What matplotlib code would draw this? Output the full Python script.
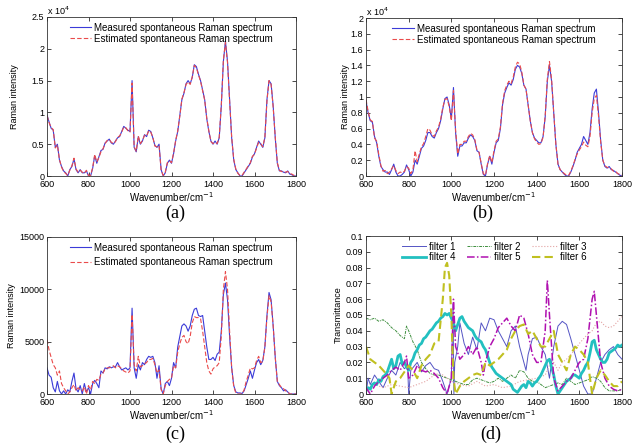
import numpy as np
import matplotlib
matplotlib.use("Agg")
import matplotlib.pyplot as plt

# ---------------- data ----------------
wn = list(range(600, 1801, 10))

# panel (a), intensity in units of 1e4
a_meas = [0.96, 0.85, 0.75, 0.72, 0.45, 0.50, 0.25, 0.15, 0.08, 0.05,
          0.00, 0.10, 0.15, 0.27, 0.10, 0.05, 0.10, 0.05, 0.05, 0.08,
          0.00, 0.00, 0.12, 0.32, 0.20, 0.30, 0.40, 0.42, 0.52, 0.55,
          0.58, 0.52, 0.50, 0.55, 0.60, 0.62, 0.70, 0.78, 0.75, 0.72,
          0.70, 1.50, 0.45, 0.38, 0.62, 0.50, 0.55, 0.65, 0.62, 0.72,
          0.70, 0.60, 0.48, 0.45, 0.50, 0.10, 0.00, 0.05, 0.20, 0.25,
          0.20, 0.35, 0.55, 0.70, 0.95, 1.20, 1.30, 1.45, 1.50, 1.45,
          1.55, 1.75, 1.72, 1.60, 1.50, 1.35, 1.20, 0.90, 0.70, 0.55,
          0.50, 0.55, 0.50, 0.60, 1.10, 1.80, 2.12, 1.80, 1.20, 0.60,
          0.25, 0.10, 0.05, 0.00, 0.00, 0.05, 0.10, 0.15, 0.20, 0.30,
          0.35, 0.45, 0.55, 0.50, 0.45, 0.60, 1.20, 1.50, 1.45, 1.10,
          0.60, 0.20, 0.08, 0.08, 0.06, 0.05, 0.08, 0.03, 0.02, 0.00,
          0.00]
a_est = [0.95, 0.84, 0.76, 0.73, 0.44, 0.49, 0.26, 0.14, 0.07, 0.04,
         0.01, 0.09, 0.16, 0.28, 0.11, 0.06, 0.09, 0.06, 0.04, 0.09,
         0.01, 0.01, 0.13, 0.34, 0.22, 0.29, 0.38, 0.43, 0.51, 0.56,
         0.57, 0.53, 0.51, 0.54, 0.61, 0.63, 0.69, 0.77, 0.76, 0.71,
         0.69, 1.46, 0.46, 0.39, 0.63, 0.51, 0.56, 0.64, 0.63, 0.71,
         0.69, 0.61, 0.47, 0.46, 0.48, 0.09, 0.01, 0.06, 0.21, 0.24,
         0.21, 0.36, 0.56, 0.71, 0.94, 1.21, 1.31, 1.44, 1.48, 1.44,
         1.56, 1.74, 1.70, 1.59, 1.49, 1.34, 1.19, 0.91, 0.71, 0.54,
         0.51, 0.53, 0.51, 0.61, 1.12, 1.82, 2.10, 1.78, 1.18, 0.61,
         0.26, 0.11, 0.04, 0.01, 0.01, 0.06, 0.11, 0.16, 0.21, 0.31,
         0.34, 0.44, 0.53, 0.51, 0.46, 0.61, 1.18, 1.50, 1.44, 1.08,
         0.61, 0.21, 0.09, 0.07, 0.07, 0.06, 0.07, 0.04, 0.03, 0.01,
         0.01]

# panel (b), units of 1e4
b_meas = [0.95, 0.80, 0.70, 0.68, 0.50, 0.42, 0.25, 0.12, 0.08, 0.05,
          0.05, 0.02, 0.08, 0.15, 0.05, 0.00, 0.00, 0.02, 0.05, 0.14,
          0.08, 0.00, 0.05, 0.20, 0.15, 0.25, 0.35, 0.38, 0.45, 0.55,
          0.55, 0.50, 0.48, 0.55, 0.60, 0.70, 0.85, 0.98, 1.00, 0.90,
          0.72, 1.12, 0.55, 0.25, 0.38, 0.38, 0.42, 0.42, 0.48, 0.52,
          0.50, 0.45, 0.32, 0.30, 0.15, 0.02, 0.00, 0.15, 0.25, 0.15,
          0.30, 0.42, 0.45, 0.60, 0.90, 1.05, 1.12, 1.18, 1.15, 1.22,
          1.35, 1.40, 1.38, 1.30, 1.15, 1.10, 0.90, 0.70, 0.55, 0.48,
          0.45, 0.42, 0.42, 0.50, 0.75, 1.20, 1.40, 1.20, 0.80, 0.40,
          0.15, 0.08, 0.05, 0.02, 0.00, 0.00, 0.05, 0.12, 0.20, 0.30,
          0.35, 0.40, 0.50, 0.45, 0.40, 0.55, 0.85, 1.05, 1.10, 0.80,
          0.45, 0.20, 0.12, 0.10, 0.12, 0.08, 0.07, 0.05, 0.03, 0.01,
          0.00]
b_est = [0.97, 0.82, 0.71, 0.69, 0.48, 0.44, 0.27, 0.13, 0.06, 0.07,
         0.03, 0.05, 0.09, 0.13, 0.07, 0.03, 0.05, 0.04, 0.06, 0.12,
         0.10, 0.03, 0.08, 0.32, 0.18, 0.28, 0.37, 0.41, 0.50, 0.60,
         0.58, 0.52, 0.50, 0.57, 0.62, 0.72, 0.87, 0.97, 0.98, 0.88,
         0.70, 1.08, 0.58, 0.28, 0.40, 0.40, 0.44, 0.44, 0.50, 0.54,
         0.52, 0.46, 0.33, 0.30, 0.16, 0.03, 0.01, 0.16, 0.26, 0.17,
         0.32, 0.44, 0.47, 0.62, 0.92, 1.08, 1.15, 1.20, 1.17, 1.25,
         1.38, 1.44, 1.42, 1.32, 1.15, 1.10, 0.90, 0.70, 0.55, 0.47,
         0.43, 0.40, 0.41, 0.49, 0.76, 1.23, 1.45, 1.22, 0.80, 0.40,
         0.15, 0.08, 0.05, 0.03, 0.01, 0.01, 0.06, 0.13, 0.21, 0.28,
         0.33, 0.37, 0.43, 0.39, 0.37, 0.50, 0.80, 0.98, 1.02, 0.76,
         0.43, 0.20, 0.13, 0.11, 0.10, 0.09, 0.06, 0.06, 0.03, 0.02,
         0.01]

# panel (c), raw intensity
c_meas = [2500, 1800, 1600, 600, 200, 1200, 300, 0, 300, 0,
          400, 200, 1200, 2000, 500, 200, 800, 0, 1000, 200,
          600, 0, 1000, 1300, 1000, 600, 2200, 2000, 2500, 2400,
          2600, 2500, 2600, 2600, 3000, 2600, 2300, 2400, 2500, 2300,
          2500, 8200, 2500, 1500, 2800, 2300, 3000, 2800, 3300, 3600,
          3500, 3600, 3000, 1500, 2700, 500, 0, 1000, 1200, 800,
          1500, 3000, 2500, 4500, 5500, 6500, 6700, 6500, 6000, 6500,
          7500, 8100, 8200, 7500, 7400, 7500, 6000, 4500, 3300, 3300,
          3500, 3200, 3800, 4000, 6000, 9500, 10600, 9000, 5500, 2500,
          800, 200, 100, 100, 50, 300, 900, 1500, 2200, 1500,
          2300, 3000, 3300, 2800, 3200, 4500, 7500, 9700, 9000, 6500,
          3500, 1200, 800, 600, 300, 400, 200, 0, 0, 0,
          0]
c_est = [5200, 4200, 3500, 2800, 2500, 1800, 2200, 1000, 600, 300,
         0, 200, 600, 900, 300, 600, 400, 300, 700, 0,
         800, 400, 1200, 1000, 1400, 1300, 1900, 2000, 2400, 2500,
         2500, 2600, 2700, 2500, 2700, 2600, 2400, 2200, 2100, 2000,
         2200, 7600, 2800, 2200, 3600, 2600, 2700, 2900, 3000, 3300,
         3300, 3400, 2800, 2000, 2300, 400, 0, 800, 1200, 1400,
         1500, 2700, 2500, 4000, 4800, 5400, 5600, 5000, 4800, 5500,
         6800, 7400, 7300, 7300, 7200, 6000, 4500, 3000, 2200, 1900,
         2400, 2600, 2700, 3000, 5500, 10000, 11700, 10000, 6000, 2500,
         700, 100, 0, 0, 0, 400, 1200, 1800, 2500, 2400,
         2500, 3200, 3600, 3000, 3100, 4500, 7300, 9400, 8800, 6500,
         3500, 1200, 900, 600, 500, 300, 200, 0, 0, 0,
         0]

# panel (d), filter transmittances
f1_x = [600, 610, 620, 640, 660, 680, 700, 720, 740, 760, 780, 795, 800, 810,
        840, 860, 880, 900, 920, 940, 960, 980, 1000, 1008, 1012, 1016, 1030,
        1040, 1060, 1080, 1100, 1120, 1140, 1160, 1180, 1200, 1220, 1240, 1260,
        1280, 1300, 1320, 1340, 1350, 1360, 1380, 1400, 1420, 1440, 1460, 1480,
        1500, 1520, 1540, 1560, 1580, 1600, 1620, 1640, 1660, 1680, 1700, 1720,
        1740, 1760, 1780, 1800]
f1_y = [0.000, 0.010, 0.006, 0.012, 0.008, 0.004, 0.010, 0.015, 0.012, 0.020,
        0.016, 0.018, 0.000, 0.015, 0.020, 0.014, 0.018, 0.020, 0.016, 0.015,
        0.008, 0.000, 0.010, 0.057, 0.000, 0.020, 0.030, 0.045, 0.032, 0.025,
        0.036, 0.028, 0.045, 0.040, 0.048, 0.047, 0.040, 0.035, 0.030, 0.040,
        0.043, 0.030, 0.020, 0.015, 0.025, 0.035, 0.036, 0.030, 0.025, 0.010,
        0.030, 0.043, 0.046, 0.044, 0.035, 0.025, 0.015, 0.005, 0.000, 0.000,
        0.010, 0.020, 0.025, 0.028, 0.030, 0.025, 0.022]
f2_x = [600, 620, 640, 660, 680, 700, 720, 740, 760, 780, 790, 800, 820, 840,
        860, 880, 900, 920, 940, 960, 980, 1000, 1020, 1040, 1060, 1080, 1100,
        1120, 1140, 1160, 1180, 1200, 1220, 1240, 1260, 1280, 1300, 1320, 1340,
        1360, 1380, 1400, 1420, 1440, 1460, 1480, 1500, 1520, 1540, 1560, 1580,
        1600, 1620, 1640, 1660, 1680, 1700, 1720, 1740, 1760, 1780, 1800]
f2_y = [0.048, 0.047, 0.048, 0.046, 0.047, 0.045, 0.042, 0.040, 0.037, 0.035,
        0.043, 0.040, 0.033, 0.028, 0.020, 0.016, 0.013, 0.012, 0.012, 0.011,
        0.010, 0.009, 0.008, 0.007, 0.006, 0.006, 0.009, 0.010, 0.009, 0.008,
        0.007, 0.008, 0.010, 0.008, 0.010, 0.012, 0.010, 0.015, 0.014, 0.010,
        0.008, 0.008, 0.006, 0.004, 0.005, 0.006, 0.007, 0.006, 0.010, 0.008,
        0.006, 0.007, 0.008, 0.009, 0.011, 0.010, 0.008, 0.004, 0.002, 0.002,
        0.002, 0.003]
f3_x = [600, 640, 680, 720, 760, 800, 840, 880, 900, 920, 940, 960, 980, 1000,
        1040, 1080, 1120, 1160, 1200, 1240, 1280, 1320, 1360, 1400, 1440, 1460,
        1480, 1500, 1520, 1540, 1560, 1580, 1600, 1620, 1640, 1660, 1680, 1700,
        1720, 1740, 1760, 1780, 1800]
f3_y = [0.003, 0.006, 0.004, 0.006, 0.005, 0.004, 0.006, 0.008, 0.010, 0.012,
        0.013, 0.012, 0.010, 0.008, 0.006, 0.005, 0.008, 0.005, 0.006, 0.004,
        0.005, 0.008, 0.009, 0.010, 0.012, 0.018, 0.020, 0.015, 0.020, 0.022,
        0.025, 0.028, 0.032, 0.035, 0.038, 0.040, 0.045, 0.046, 0.043, 0.042,
        0.043, 0.046, 0.049]
f4_x = list(range(600, 1801, 10))
f4_y = [0.002, 0.004, 0.003, 0.006, 0.007, 0.006, 0.009, 0.008, 0.011, 0.012,
        0.014, 0.018, 0.022, 0.016, 0.018, 0.024, 0.025, 0.019, 0.020, 0.017,
        0.015, 0.020, 0.022, 0.026, 0.028, 0.031, 0.032, 0.035, 0.036, 0.038,
        0.040, 0.041, 0.043, 0.045, 0.046, 0.048, 0.049, 0.051, 0.050, 0.051,
        0.048, 0.045, 0.040, 0.044, 0.048, 0.049, 0.046, 0.044, 0.042, 0.041,
        0.040, 0.037, 0.035, 0.034, 0.033, 0.030, 0.028, 0.024, 0.020, 0.017,
        0.015, 0.013, 0.012, 0.011, 0.010, 0.009, 0.008, 0.007, 0.006, 0.003,
        0.002, 0.001, 0.003, 0.005, 0.006, 0.004, 0.008, 0.007, 0.005, 0.007,
        0.008, 0.010, 0.012, 0.015, 0.018, 0.021, 0.022, 0.017, 0.012, 0.005,
        0.000, 0.002, 0.004, 0.006, 0.008, 0.009, 0.010, 0.012, 0.012, 0.011,
        0.010, 0.013, 0.015, 0.018, 0.020, 0.026, 0.033, 0.034, 0.028, 0.025,
        0.022, 0.020, 0.020, 0.022, 0.026, 0.027, 0.028, 0.029, 0.031, 0.030,
        0.031]
f5_x = [600, 620, 640, 660, 680, 700, 720, 740, 760, 780, 790, 800, 820, 840,
        860, 880, 900, 920, 940, 960, 980, 1000, 1010, 1020, 1040, 1060, 1080,
        1100, 1120, 1140, 1150, 1160, 1180, 1200, 1220, 1240, 1260, 1280, 1300,
        1320, 1340, 1360, 1380, 1400, 1420, 1440, 1450, 1460, 1480, 1500, 1520,
        1540, 1560, 1580, 1600, 1620, 1640, 1660, 1670, 1680, 1700, 1720, 1740,
        1760, 1780, 1800]
f5_y = [0.004, 0.000, 0.005, 0.008, 0.010, 0.012, 0.015, 0.017, 0.015, 0.020,
        0.024, 0.010, 0.012, 0.018, 0.015, 0.014, 0.015, 0.013, 0.010, 0.004,
        0.000, 0.010, 0.060, 0.030, 0.022, 0.025, 0.030, 0.025, 0.030, 0.020,
        0.012, 0.020, 0.030, 0.035, 0.042, 0.045, 0.048, 0.043, 0.040, 0.050,
        0.048, 0.038, 0.025, 0.020, 0.020, 0.040, 0.072, 0.050, 0.010, 0.002,
        0.005, 0.008, 0.010, 0.015, 0.020, 0.022, 0.035, 0.060, 0.065, 0.050,
        0.020, 0.010, 0.005, 0.003, 0.002, 0.003]
f6_x = [600, 620, 640, 660, 680, 700, 710, 720, 740, 760, 780, 800, 820, 840,
        860, 880, 900, 920, 940, 960, 970, 980, 990, 1000, 1010, 1020, 1040,
        1060, 1080, 1100, 1120, 1140, 1160, 1180, 1200, 1220, 1240, 1260, 1280,
        1300, 1320, 1340, 1360, 1380, 1400, 1420, 1440, 1460, 1480, 1500, 1520,
        1540, 1560, 1580, 1600, 1620, 1640, 1660, 1680, 1700, 1720, 1740, 1760,
        1780, 1800]
f6_y = [0.030, 0.022, 0.020, 0.018, 0.015, 0.012, 0.010, 0.000, 0.008, 0.010,
        0.014, 0.018, 0.015, 0.010, 0.018, 0.022, 0.025, 0.032, 0.033, 0.060,
        0.080, 0.083, 0.075, 0.050, 0.010, 0.000, 0.005, 0.008, 0.010, 0.012,
        0.013, 0.012, 0.020, 0.018, 0.020, 0.022, 0.025, 0.028, 0.035, 0.040,
        0.043, 0.044, 0.038, 0.040, 0.035, 0.030, 0.030, 0.035, 0.040, 0.025,
        0.020, 0.015, 0.025, 0.030, 0.028, 0.025, 0.020, 0.000, 0.010, 0.015,
        0.012, 0.008, 0.005, 0.005, 0.008]

filter_names = ["filter 1", "filter 2", "filter 3", "filter 4", "filter 5", "filter 6"]
spec_labels = ["Measured spontaneous Raman spectrum", "Estimated spontaneous Raman spectrum"]
panel_labels = ["(a)", "(b)", "(c)", "(d)"]

# ---------------- figure ----------------
W, H = 641, 447
fig = plt.figure(figsize=(W / 100, H / 100), dpi=100)
plt.rcParams['font.family'] = ['Liberation Sans', 'DejaVu Sans']

def box(l, t, r, b):
    return [l / W, 1 - b / H, (r - l) / W, (b - t) / H]

boxes = {'a': (47, 17, 296, 176), 'b': (366, 18, 622, 176),
         'c': (47, 237, 296, 394), 'd': (366, 236, 622, 394)}
ax_a = fig.add_axes(box(*boxes['a']))
ax_b = fig.add_axes(box(*boxes['b']))
ax_c = fig.add_axes(box(*boxes['c']))
ax_d = fig.add_axes(box(*boxes['d']))
ylab_px = {'a': 19, 'b': 350, 'c': 16, 'd': 343}

BLUE = '#3b3bd8'
RED = '#ea4b4b'
fs = 6.5

def style(ax, key, yticks, ylabel):
    ax.set_xlim(600, 1800)
    ax.set_xticks(range(600, 1801, 200))
    ax.set_ylim(yticks[0], yticks[-1])
    ax.set_yticks(yticks)
    ax.tick_params(direction='in', top=True, right=True, labelsize=fs,
                   length=3, width=0.5, pad=2)
    ax.tick_params(axis='x', pad=3)
    for s in ax.spines.values():
        s.set_linewidth(0.6)
        s.set_color('#333333')
    ax.set_xlabel('Wavenumber/cm$^{-1}$', fontsize=fs + 0.5, labelpad=1)
    ax.set_ylabel(ylabel, fontsize=fs)
    l, t, r, b = boxes[key]
    ax.yaxis.set_label_coords((ylab_px[key] - l) / (r - l), 0.5)
    ax.yaxis.set_major_formatter(matplotlib.ticker.FuncFormatter(lambda v, p: '%g' % v))

for ax, key, m, e, yt, ls in [
        (ax_a, 'a', a_meas, a_est, [0, 0.5, 1, 1.5, 2, 2.5], 0.1),
        (ax_b, 'b', b_meas, b_est, [0, 0.2, 0.4, 0.6, 0.8, 1, 1.2, 1.4, 1.6, 1.8, 2], 0.1),
        (ax_c, 'c', c_meas, c_est, [0, 5000, 10000, 15000], 0.45)]:
    ax.plot(wn, m, color=BLUE, lw=0.8, label=spec_labels[0])
    ax.plot(wn, e, color=RED, lw=0.8, ls=(0, (4, 2)), label=spec_labels[1])
    style(ax, key, yt, 'Raman intensity')
    ax.legend(loc='upper center', frameon=False, fontsize=fs + 0.5,
              handlelength=2.2, handletextpad=0.3, labelspacing=ls,
              borderaxespad=0.2)

for ax in (ax_a, ax_b):
    ax.text(0.0, 1.0, 'x 10$^4$', transform=ax.transAxes, fontsize=fs,
            ha='left', va='bottom')

fx = [f1_x, f2_x, f3_x, f4_x, f5_x, f6_x]
fy = [f1_y, f2_y, f3_y, f4_y, f5_y, f6_y]
fcol = ['#5454c4', '#3f8f3f', '#e3a3a3', '#22c0c0', '#b010b0', '#c0c020']
fls = ['-', (0, (3, 1, 1, 1)), ':', '-', (0, (5, 1.5, 1, 1.5)), (0, (4, 2))]
flw = [0.7, 0.7, 0.8, 2.0, 1.1, 1.5]
lines = []
for x, y, c, ls, lw, n in zip(fx, fy, fcol, fls, flw, filter_names):
    ln, = ax_d.plot(x, y, color=c, ls=ls, lw=lw, label=n)
    lines.append(ln)
style(ax_d, 'd', [0, 0.01, 0.02, 0.03, 0.04, 0.05, 0.06, 0.07, 0.08, 0.09, 0.1], 'Transmittance')
order = [0, 3, 1, 4, 2, 5]
ax_d.legend([lines[i] for i in order], [filter_names[i] for i in order],
            loc='upper center', ncol=3, frameon=False, fontsize=fs + 0.5,
            handlelength=2.5, handletextpad=0.3, labelspacing=0.05,
            columnspacing=1.2, borderaxespad=0.2)

for lab, (x, y) in zip(panel_labels, [(175, 213), (483, 213), (175, 434), (491, 434)]):
    fig.text(x / W, 1 - y / H, lab, fontsize=13, ha='center', va='center',
             family=['Liberation Serif', 'DejaVu Serif'])

fig.savefig('out.png', dpi=100)
